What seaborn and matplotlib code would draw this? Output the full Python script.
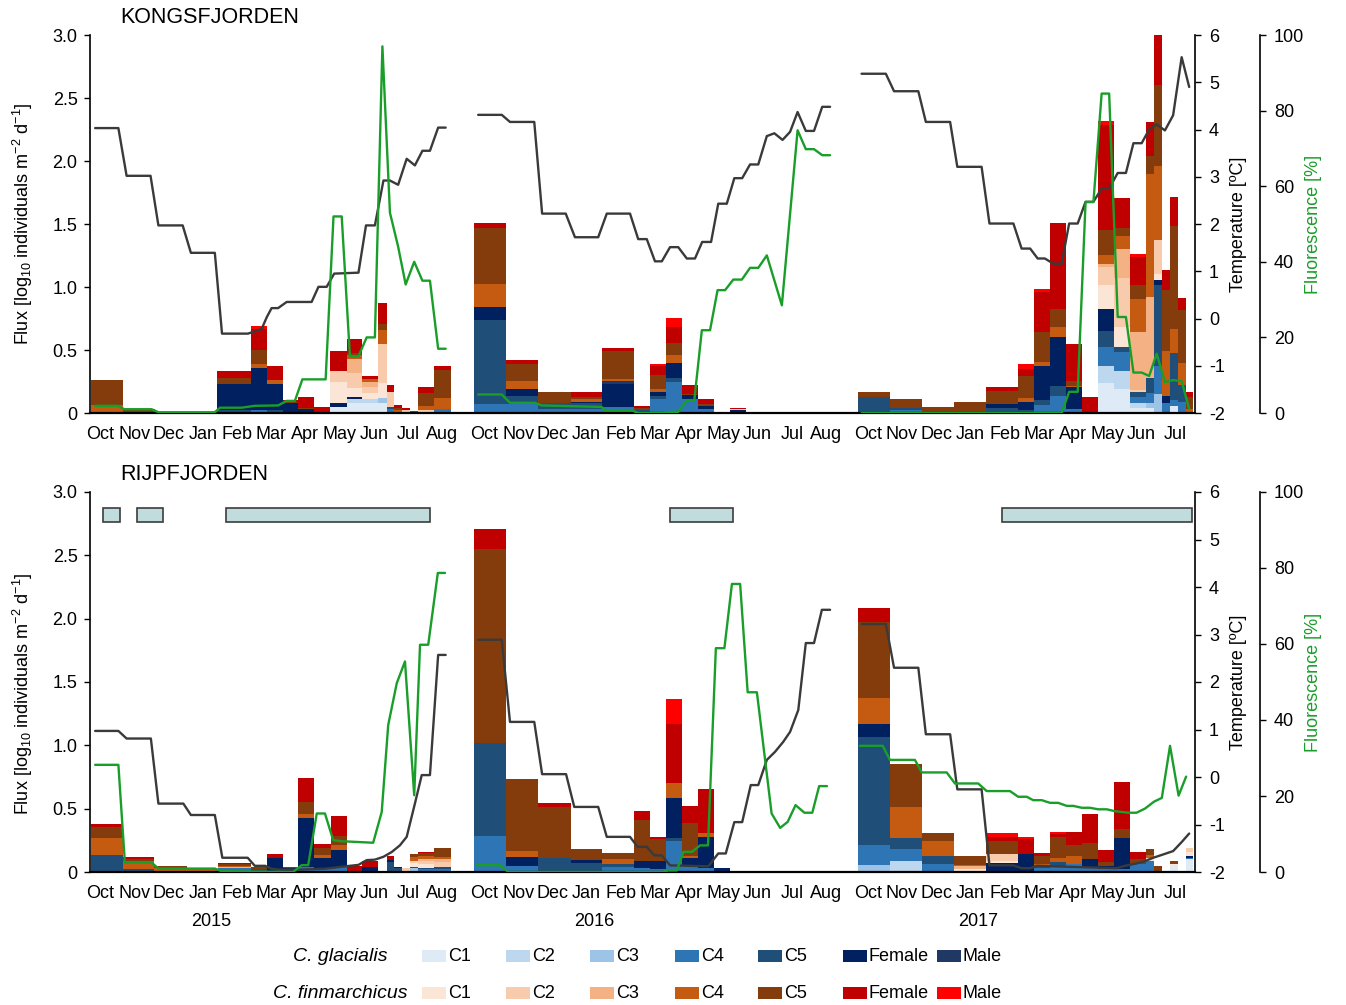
import numpy as np
import pandas as pd
import matplotlib
matplotlib.use("Agg")
import matplotlib.pyplot as plt
from matplotlib.patches import Rectangle
from matplotlib.transforms import blended_transform_factory
import seaborn as sns

sns.set_style("ticks")
plt.rcParams["font.family"] = ["Liberation Sans", "DejaVu Sans"]
plt.rcParams["mathtext.default"] = "regular"
plt.rcParams["axes.unicode_minus"] = False
for key in ["text.color", "axes.labelcolor", "xtick.color", "ytick.color", "axes.edgecolor"]:
    plt.rcParams[key] = "black"

##############################################################################
# data (x = months since 1 Oct of each deployment year)
##############################################################################
stages = ["g1", "g2", "g3", "g4", "g5", "gF", "gM",
          "f1", "f2", "f3", "f4", "f5", "fF", "fM"]
stage_labels = ["C1", "C2", "C3", "C4", "C5", "Female", "Male"]
gla_colors = ["#deebf7", "#bdd7ee", "#9dc3e6", "#2e75b6", "#1f4e79", "#002060", "#203864"]
fin_colors = ["#fbe5d6", "#f8cbad", "#f4b183", "#c55a11", "#843c0c", "#c00000", "#ff0000"]
months = ["Oct", "Nov", "Dec", "Jan", "Feb", "Mar", "Apr", "May", "Jun", "Jul", "Aug"]
n_months = [11, 11, 10]
years = ["2015", "2016", "2017"]

# Kongsfjorden
kf15_edges = [0.03, 0.97, 1.9, 2.78, 3.72, 4.71, 5.18, 5.64, 6.08, 6.55, 7.02,
              7.51, 7.95, 8.42, 8.68, 8.89, 9.12, 9.36, 9.59, 10.06, 10.56]
kf15_flux = [
    {"g5": 0.01, "f4": 0.05, "f5": 0.20},
    {"g5": 0.01, "f5": 0.02},
    {"f5": 0.005},
    {"f5": 0.005},
    {"g5": 0.02, "gF": 0.21, "f5": 0.05, "fF": 0.05},
    {"g4": 0.02, "gF": 0.34, "f4": 0.03, "f5": 0.11, "fF": 0.17, "fM": 0.02},
    {"g5": 0.02, "gF": 0.21, "f4": 0.03, "fF": 0.11},
    {"gF": 0.08, "f5": 0.01, "fF": 0.01},
    {"gF": 0.03, "f5": 0.01, "fF": 0.09},
    {"gF": 0.01, "fF": 0.04},
    {"g1": 0.05, "gF": 0.03, "f1": 0.17, "f2": 0.08, "fF": 0.16},
    {"g1": 0.08, "g2": 0.035, "gF": 0.013, "f1": 0.07, "f2": 0.12, "f3": 0.11,
     "f4": 0.03, "f5": 0.02, "fF": 0.11},
    {"g1": 0.08, "g2": 0.03, "f1": 0.05, "f2": 0.05, "f3": 0.04, "f4": 0.02, "fF": 0.02},
    {"g1": 0.08, "g3": 0.04, "f1": 0.12, "f2": 0.31, "f4": 0.11, "f5": 0.045, "fF": 0.17},
    {"g4": 0.03, "g5": 0.015, "f2": 0.12, "fF": 0.06},
    {"f4": 0.02, "f5": 0.02, "fF": 0.02},
    {"f2": 0.02, "fF": 0.02},
    {"f5": 0.016},
    {"f2": 0.02, "f4": 0.035, "f5": 0.105, "fF": 0.05},
    {"g4": 0.03, "f4": 0.09, "f5": 0.225, "fF": 0.025},
]
kf16_edges = [0.02, 0.94, 1.89, 2.84, 3.76, 4.7, 5.16, 5.63, 6.1, 6.57, 7.03, 7.49, 7.96, 8.43]
kf16_flux = [
    {"g4": 0.07, "g5": 0.67, "gF": 0.1, "f4": 0.18, "f5": 0.45, "fF": 0.035},
    {"g4": 0.07, "g5": 0.067, "gF": 0.053, "f4": 0.067, "f5": 0.133, "fF": 0.027},
    {"g4": 0.03, "g5": 0.053, "f5": 0.08},
    {"g4": 0.03, "g5": 0.05, "gF": 0.01, "f4": 0.025, "f5": 0.01, "fF": 0.045},
    {"g4": 0.045, "gF": 0.187, "gM": 0.02, "f4": 0.02, "f5": 0.22, "fF": 0.02},
    {"g5": 0.02, "f5": 0.02, "fF": 0.015},
    {"g4": 0.11, "g5": 0.027, "gF": 0.027, "f4": 0.027, "f5": 0.11, "fF": 0.075, "fM": 0.015},
    {"g4": 0.245, "g5": 0.032, "gF": 0.123, "f4": 0.064, "f5": 0.088, "fF": 0.133, "fM": 0.067},
    {"g4": 0.11, "gF": 0.03, "f5": 0.01, "fF": 0.07},
    {"g4": 0.03, "gF": 0.027, "f5": 0.018, "fF": 0.04},
    {"fF": 0.005},
    {"g4": 0.01, "gF": 0.015, "f2": 0.005, "fF": 0.01},
    {"fF": 0.003},
]
kf17_edges = [0.03, 0.95, 1.88, 2.82, 3.76, 4.69, 5.15, 5.62, 6.09, 6.56,
              7.03, 7.49, 7.96, 8.43, 8.66, 8.9, 9.13, 9.37, 9.6, 9.82]
kf17_flux = [
    {"g5": 0.13, "f5": 0.04},
    {"g4": 0.02, "g5": 0.02, "f5": 0.075},
    {"g5": 0.01, "f5": 0.035},
    {"f4": 0.01, "f5": 0.075},
    {"g5": 0.04, "gF": 0.03, "f5": 0.107, "fF": 0.027},
    {"g5": 0.02, "gF": 0.07, "f4": 0.032, "f5": 0.17, "fF": 0.06, "fM": 0.037},
    {"g4": 0.067, "g5": 0.04, "gF": 0.267, "f4": 0.027, "f5": 0.24, "fF": 0.32, "fM": 0.027},
    {"g4": 0.133, "g5": 0.08, "gF": 0.392, "f4": 0.08, "f5": 0.141, "fF": 0.68},
    {"g4": 0.03, "gF": 0.18, "f4": 0.005, "f5": 0.04, "fF": 0.29},
    {"fF": 0.13},
    {"g1": 0.24, "g2": 0.133, "g4": 0.147, "g5": 0.128, "gF": 0.179, "f1": 0.187,
     "f2": 0.147, "f3": 0.021, "f4": 0.072, "f5": 0.2, "fF": 0.832, "fM": 0.035},
    {"g1": 0.187, "g2": 0.147, "g4": 0.147, "g5": 0.045, "f1": 0.155, "f2": 0.387,
     "f3": 0.232, "f4": 0.101, "f5": 0.067, "fF": 0.24},
    {"g1": 0.04, "g2": 0.04, "g4": 0.045, "g5": 0.04, "f2": 0.021, "f3": 0.453,
     "f4": 0.267, "f5": 0.107, "fF": 0.227, "fM": 0.019},
    {"g1": 0.04, "g3": 0.04, "g4": 0.08, "g5": 0.12, "f3": 0.64, "f4": 0.973,
     "f5": 0.147, "fF": 0.267},
    {"g3": 0.147, "g4": 0.227, "g5": 0.64, "gF": 0.045, "f1": 0.048, "f2": 0.267,
     "f4": 0.587, "f5": 0.64, "fF": 0.44},
    {"g4": 0.08, "gF": 0.053, "f4": 0.36, "f5": 0.48, "fF": 0.16},
    {"g1": 0.053, "g4": 0.053, "g5": 0.373, "f4": 0.187, "f5": 0.819, "fF": 0.227},
    {"g4": 0.09, "g5": 0.133, "f4": 0.173, "f5": 0.419, "fF": 0.101},
    {"f4": 0.03, "f5": 0.1, "fF": 0.04},
]

kf15_temp_x = [0.15, 0.83, 1.07, 1.77, 2.0, 2.71, 2.95, 3.65, 3.86, 4.62, 5.02, 5.17, 5.31,
               5.5, 5.75, 6.48, 6.68, 6.92, 7.14, 7.85, 8.07, 8.33, 8.58, 8.77, 9.01, 9.26,
               9.5, 9.72, 9.94, 10.18, 10.4]
kf15_temp = [4.03, 4.03, 3.02, 3.02, 1.97, 1.97, 1.39, 1.39, -0.32, -0.32, -0.22, 0.03, 0.22,
             0.22, 0.35, 0.35, 0.67, 0.67, 0.95, 0.97, 1.97, 1.97, 2.92, 2.92, 2.83, 3.38,
             3.24, 3.55, 3.55, 4.04, 4.04]
kf15_fluo_x = [0.15, 0.83, 1.0, 1.8, 2.0, 3.65, 3.8, 4.43, 4.82, 5.5, 5.75, 5.99, 6.21, 6.89,
               7.12, 7.36, 7.6, 7.85, 8.09, 8.33, 8.55, 8.77, 9.01, 9.23, 9.48, 9.72, 9.94,
               10.18, 10.4]
kf15_fluo = [1.9, 1.9, 1.0, 1.0, 0.2, 0.2, 1.4, 1.4, 1.9, 2.0, 3.2, 3.2, 8.9, 8.9, 52, 52,
             15, 15, 20, 20, 97, 53, 44, 34, 40, 35, 35, 17, 17]
kf16_temp_x = [0.13, 0.82, 1.06, 1.77, 2.0, 2.69, 2.96, 3.64, 3.89, 4.57, 4.81, 5.06, 5.3,
               5.5, 5.74, 5.98, 6.23, 6.47, 6.68, 6.94, 7.15, 7.4, 7.62, 7.85, 8.08, 8.32,
               8.57, 8.79, 9.03, 9.25, 9.47, 9.71, 9.95, 10.19, 10.42]
kf16_temp = [4.31, 4.31, 4.16, 4.16, 2.22, 2.22, 1.72, 1.72, 2.22, 2.22, 1.68, 1.68, 1.21,
             1.21, 1.51, 1.51, 1.27, 1.27, 1.62, 1.62, 2.43, 2.43, 2.97, 2.97, 3.26, 3.26,
             3.86, 3.92, 3.78, 3.95, 4.37, 3.97, 3.97, 4.48, 4.48]
kf16_fluo_x = [0.13, 0.82, 1.06, 1.79, 1.99, 3.74, 3.84, 4.62, 4.81, 5.5, 5.74, 5.98, 6.23,
               6.45, 6.67, 6.91, 7.13, 7.35, 7.59, 7.84, 8.08, 8.32, 8.57, 9.01, 9.47, 9.71,
               9.95, 10.19, 10.42]
kf16_fluo = [4.9, 4.9, 2.7, 2.7, 2.0, 1.6, 0.7, 0.7, 0, 0, 0.3, 0.3, 3.4, 3.4, 21.9, 21.9,
             32.5, 32.5, 35.3, 35.3, 38.4, 38.4, 41.7, 28.5, 74.8, 69.8, 69.8, 68.2, 68.2]
kf17_temp_x = [0.12, 0.83, 1.07, 1.78, 2.0, 2.71, 2.92, 3.63, 3.86, 4.56, 4.8, 5.05, 5.27,
               5.48, 5.73, 5.97, 6.19, 6.44, 6.67, 6.9, 7.14, 7.36, 7.61, 7.85, 8.07, 8.31,
               8.53, 8.75, 8.99, 9.23, 9.48, 9.7]
kf17_temp = [5.18, 5.18, 4.81, 4.81, 4.16, 4.16, 3.21, 3.21, 2.01, 2.01, 1.48, 1.48, 1.27,
             1.27, 1.16, 1.16, 2.01, 2.01, 2.47, 2.47, 2.75, 2.75, 3.08, 3.08, 3.71, 3.71,
             4.0, 4.11, 3.98, 4.3, 5.53, 4.9]
kf17_fluo_x = [0.12, 5.97, 6.19, 6.44, 6.67, 6.9, 7.14, 7.36, 7.61, 7.85, 8.07, 8.31, 8.53,
               8.75, 8.99, 9.23, 9.48, 9.7]
kf17_fluo = [0, 0, 5.6, 5.6, 55.8, 55.8, 84.5, 84.5, 25.4, 25.4, 10.7, 10.7, 9.8, 15.7, 8.2,
             8.7, 8.4, 1.1]

# Rijpfjorden
rf15_edges = [0.03, 0.96, 1.88, 2.83, 3.75, 4.7, 5.17, 5.64, 6.09, 6.56, 7.05,
              7.51, 7.96, 8.43, 8.68, 8.9, 9.13, 9.36, 9.6, 10.07, 10.56]
rf15_flux = [
    {"g5": 0.132, "f4": 0.137, "f5": 0.087, "fF": 0.026},
    {"g5": 0.026, "f4": 0.058, "f5": 0.021, "fF": 0.013},
    {"f4": 0.03, "f5": 0.015},
    {"f2": 0.01, "f4": 0.016},
    {"g4": 0.03, "f3": 0.01, "f4": 0.01, "f5": 0.015, "fF": 0.005},
    {"g5": 0.02, "f5": 0.02},
    {"g5": 0.01, "gF": 0.1, "fF": 0.032},
    {"gF": 0.03, "f5": 0.01},
    {"g4": 0.04, "gF": 0.383, "f4": 0.032, "f5": 0.1, "fF": 0.19},
    {"g4": 0.03, "gF": 0.079, "f4": 0.026, "f5": 0.053, "fF": 0.032},
    {"g4": 0.04, "gF": 0.132, "f4": 0.04, "f5": 0.071, "fF": 0.161},
    {"gF": 0.01, "fF": 0.035},
    {"g5": 0.01, "gF": 0.03, "fF": 0.05},
    {"gF": 0.01},
    {"g5": 0.08, "gF": 0.015, "fF": 0.035},
    {"g5": 0.03, "gF": 0.01},
    {"f1": 0.01, "f2": 0.02},
    {"g3": 0.03, "g5": 0.01, "f1": 0.03, "f2": 0.02, "f4": 0.03, "f5": 0.025},
    {"g4": 0.02, "g5": 0.015, "f1": 0.025, "f2": 0.025, "f3": 0.02, "f4": 0.025,
     "f5": 0.02, "fF": 0.01},
    {"g4": 0.026, "g5": 0.013, "f2": 0.04, "f3": 0.026, "f4": 0.013, "f5": 0.075},
]
rf16_edges = [0.02, 0.94, 1.89, 2.84, 3.76, 4.7, 5.16, 5.63, 6.1, 6.57, 7.03, 7.49]
rf16_flux = [
    {"g4": 0.287, "g5": 0.732, "f5": 1.533, "fF": 0.156},
    {"g4": 0.045, "gF": 0.074, "f4": 0.045, "f5": 0.567},
    {"g5": 0.111, "f5": 0.404, "fF": 0.026},
    {"g5": 0.071, "gF": 0.021, "f5": 0.09},
    {"g4": 0.04, "g5": 0.025, "f4": 0.035, "f5": 0.05},
    {"g4": 0.03, "gF": 0.053, "f5": 0.33, "fF": 0.071},
    {"g4": 0.02, "gF": 0.066, "f5": 0.172, "fF": 0.021},
    {"g4": 0.243, "g5": 0.026, "gF": 0.317, "f4": 0.119, "fF": 0.462, "fM": 0.198},
    {"g4": 0.045, "gF": 0.066, "f4": 0.018, "f5": 0.259, "fF": 0.137},
    {"g4": 0.03, "gF": 0.245, "f4": 0.032, "fF": 0.351},
    {"gF": 0.03},
]
rf17_edges = kf17_edges
rf17_flux = [
    {"g3": 0.055, "g4": 0.158, "g5": 0.853, "gF": 0.106, "f4": 0.198, "f5": 0.607, "fF": 0.106},
    {"g2": 0.087, "g4": 0.098, "g5": 0.087, "f4": 0.245, "f5": 0.335},
    {"g4": 0.061, "g5": 0.066, "f4": 0.119, "f5": 0.058},
    {"f1": 0.02, "f3": 0.026, "f4": 0.01, "f5": 0.074},
    {"gF": 0.069, "f1": 0.018, "f2": 0.053, "f5": 0.106, "fF": 0.034, "fM": 0.024},
    {"gF": 0.14, "fF": 0.12, "fM": 0.02},
    {"g4": 0.03, "g5": 0.01, "f4": 0.025, "f5": 0.06, "fF": 0.028},
    {"g4": 0.048, "g5": 0.032, "f4": 0.034, "f5": 0.166, "fF": 0.018, "fM": 0.018},
    {"g4": 0.061, "f4": 0.066, "f5": 0.085, "fF": 0.1},
    {"g4": 0.03, "gF": 0.074, "f5": 0.124, "fF": 0.23},
    {"g4": 0.02, "gF": 0.03, "f5": 0.03, "fF": 0.09},
    {"g4": 0.026, "gF": 0.245, "f5": 0.066, "fF": 0.375},
    {"g4": 0.061, "f5": 0.045, "fF": 0.048},
    {"g4": 0.087, "f1": 0.02, "f4": 0.026, "f5": 0.045},
    {"f5": 0.045},
    {},
    {"g1": 0.055, "f1": 0.01, "f5": 0.025},
    {},
    {"g1": 0.1, "g4": 0.01, "gF": 0.015, "f1": 0.03, "f2": 0.035},
]

rf15_temp_x = [0.15, 0.83, 1.07, 1.78, 2.0, 2.73, 2.95, 3.65, 3.87, 4.61, 4.82, 5.12, 5.31,
               5.51, 6.19, 6.87, 7.6, 7.85, 8.09, 8.33, 8.58, 8.82, 9.06, 9.26, 9.5, 9.7,
               9.94, 10.18, 10.4]
rf15_temp = [0.97, 0.97, 0.81, 0.81, -0.56, -0.56, -0.8, -0.8, -1.7, -1.7, -1.87, -1.87,
             -1.93, -1.95, -1.95, -1.93, -1.87, -1.85, -1.75, -1.74, -1.68, -1.58, -1.44,
             -1.26, -0.56, 0.04, 0.04, 2.57, 2.57]
rf15_fluo_x = [0.15, 0.83, 1.02, 1.8, 2.0, 3.65, 3.85, 5.94, 6.19, 6.38, 6.63, 6.87, 7.11,
               7.36, 8.28, 8.53, 8.72, 8.97, 9.21, 9.48, 9.65, 9.89, 10.17, 10.38]
rf15_fluo = [28.2, 28.2, 2.5, 2.5, 0.9, 0.9, 0.2, 0, 1.8, 1.8, 15.4, 15.4, 8.4, 8.1, 7.7,
             15.8, 38.7, 49.7, 55.4, 20.2, 59.8, 59.8, 78.7, 78.7]
rf16_temp_x = [0.13, 0.82, 1.06, 1.77, 2.0, 2.7, 2.94, 3.64, 3.89, 4.57, 4.79, 5.06, 5.28,
               5.5, 5.74, 6.86, 7.15, 7.37, 7.62, 7.85, 8.1, 8.32, 8.57, 8.81, 9.05, 9.25,
               9.49, 9.71, 9.95, 10.18, 10.42]
rf16_temp = [2.89, 2.89, 1.16, 1.16, 0.06, 0.06, -0.63, -0.63, -1.26, -1.26, -1.47, -1.47,
             -1.65, -1.65, -1.86, -1.88, -1.61, -1.61, -0.95, -0.95, -0.17, -0.17, 0.36,
             0.53, 0.74, 0.95, 1.41, 2.82, 2.82, 3.52, 3.52]
rf16_fluo_x = [0.09, 0.77, 1.01, 1.79, 5.5, 5.69, 5.94, 6.13, 6.38, 6.62, 6.85, 7.08, 7.33,
               7.55, 7.79, 8.01, 8.28, 8.71, 8.96, 9.18, 9.41, 9.67, 9.9, 10.1, 10.33]
rf16_fluo = [1.8, 1.8, 0, 0, 0, 0.4, 0.4, 5.3, 5.3, 7.0, 7.0, 58.9, 58.9, 75.8, 75.8, 47.3,
             47.3, 15.4, 11.6, 13.2, 17.6, 15.6, 15.6, 22.6, 22.6]
rf17_temp_x = [0.12, 0.83, 1.07, 1.78, 2.0, 2.71, 2.92, 3.63, 3.86, 4.56, 4.8, 5.05, 5.24,
               7.58, 7.82, 8.16, 8.41, 8.65, 8.9, 9.23, 9.48, 9.7]
rf17_temp = [3.22, 3.22, 2.3, 2.3, 0.9, 0.9, -0.26, -0.26, -1.86, -1.86, -1.92, -1.92, -1.87,
             -1.92, -1.87, -1.82, -1.77, -1.7, -1.64, -1.56, -1.37, -1.19]
rf17_fluo_x = [0.07, 0.74, 0.95, 1.68, 1.88, 2.61, 2.85, 3.53, 3.78, 4.46, 4.7, 4.95, 5.14,
               5.39, 5.63, 5.87, 6.12, 6.31, 6.56, 6.8, 7.04, 7.29, 7.53, 7.92, 8.16, 8.41,
               8.67, 8.9, 9.14, 9.39, 9.61]
rf17_fluo = [33.2, 33.2, 29.5, 29.5, 26.2, 26.2, 23.3, 23.3, 21.3, 21.3, 19.8, 19.8, 18.9,
             18.9, 18.2, 18.2, 17.4, 17.4, 16.9, 16.9, 16.5, 16.5, 16.0, 15.6, 15.6, 16.7,
             18.5, 19.5, 33.2, 20.1, 25.1]

# sea ice cover at Rijpfjorden
ice_seg = [0, 0, 0, 1, 2]
ice_start = [0.39, 1.37, 3.97, 5.74, 4.23]
ice_end = [0.88, 2.14, 9.94, 7.58, 9.78]

##############################################################################
# layout / style
##############################################################################
seg_offset = [0.0, 11.22, 22.44]
W, H = 1346, 1005
temp_color = "#3a3a3a"
fluo_color = "#1a9e2a"
ice_color = "#c0dcdc"
fs = 13


def draw_bars(ax, edges, flux, off):
    left = np.array(edges[:-1]) + off
    width = np.diff(edges)
    bottom = np.zeros(len(flux))
    for s, col in zip(stages, gla_colors + fin_colors):
        h = np.array([b.get(s, 0.0) for b in flux])
        ax.bar(left, h, width=width, bottom=bottom, align="edge", color=col, linewidth=0)
        bottom += h


def line_frame(segs):
    parts = []
    for k, (x, y) in enumerate(segs):
        parts.append(pd.DataFrame({"month": np.array(x) + seg_offset[k], "value": y, "seg": k}))
    return pd.concat(parts, ignore_index=True)


def panel(ax, title, bars, temps, fluos, flux_lab_y):
    for k, (edges, flux) in enumerate(bars):
        draw_bars(ax, edges, flux, seg_offset[k])
    ax.set_ylim(0, 3.0)
    ax.set_xlim(0, 32.31)
    ax.set_yticks(np.arange(0, 3.01, 0.5))
    ax.set_yticklabels(["0", "0.5", "1.0", "1.5", "2.0", "2.5", "3.0"])
    ticks, labels = [], []
    for k in range(3):
        for i in range(n_months[k]):
            ticks.append(seg_offset[k] + i + 0.3)
            labels.append(months[i])
    ax.set_xticks(ticks)
    ax.set_xticklabels(labels)
    ax.tick_params(axis="x", length=0, pad=9, labelsize=fs)
    ax.tick_params(axis="y", length=4, width=1, pad=5, labelsize=fs, direction="out")
    for sp in ["top", "right"]:
        ax.spines[sp].set_visible(False)
    ax.spines["left"].set_linewidth(1.2)
    ax.spines["bottom"].set_linewidth(1.6)
    ax.set_ylabel("Flux [log$_{10}$ individuals m$^{-2}$ d$^{-1}$]", fontsize=fs)
    ax.yaxis.set_label_coords(-0.05, flux_lab_y)
    ax.text(0.027, 1.047, title, transform=ax.transAxes, fontsize=15.5, va="center")

    ax_t = ax.twinx()
    sns.lineplot(data=line_frame(temps), x="month", y="value", units="seg",
                 estimator=None, sort=False, color=temp_color, linewidth=1.7, ax=ax_t)
    ax_t.set_ylim(-2, 6)
    ax_t.set_yticks(range(-2, 7))
    ax_t.set_ylabel("Temperature [ºC]", fontsize=fs)
    ax_t.yaxis.set_label_coords(1.032, 0.5)
    ax_t.tick_params(axis="y", length=4, width=1, pad=6, labelsize=fs)
    for sp in ["top", "left", "bottom"]:
        ax_t.spines[sp].set_visible(False)
    ax_t.spines["right"].set_linewidth(1.2)

    ax_f = ax.twinx()
    sns.lineplot(data=line_frame(fluos), x="month", y="value", units="seg",
                 estimator=None, sort=False, color=fluo_color, linewidth=1.7, ax=ax_f)
    ax_f.set_ylim(0, 100)
    ax_f.set_yticks(range(0, 101, 20))
    ax_f.spines["right"].set_position(("axes", 1.0588))
    ax_f.set_ylabel("Fluorescence [%]", fontsize=fs, color=fluo_color)
    ax_f.yaxis.set_label_coords(1.1, 0.5)
    ax_f.tick_params(axis="y", length=4, width=1, pad=6, labelsize=fs)
    for sp in ["top", "left", "bottom"]:
        ax_f.spines[sp].set_visible(False)
    ax_f.spines["right"].set_linewidth(1.2)
    ax.set_xlim(0, 32.31)
    ax.set_xlabel("")
    return ax_t, ax_f


fig = plt.figure(figsize=(W / 100, H / 100), dpi=100)
ax_top = fig.add_axes([90 / W, 1 - 413 / H, 1105 / W, 378 / H])
ax_bot = fig.add_axes([90 / W, 1 - 872 / H, 1105 / W, 380 / H])

panel(ax_top, "KONGSFJORDEN",
      [(kf15_edges, kf15_flux), (kf16_edges, kf16_flux), (kf17_edges, kf17_flux)],
      [(kf15_temp_x, kf15_temp), (kf16_temp_x, kf16_temp), (kf17_temp_x, kf17_temp)],
      [(kf15_fluo_x, kf15_fluo), (kf16_fluo_x, kf16_fluo), (kf17_fluo_x, kf17_fluo)],
      0.5)
panel(ax_bot, "RIJPFJORDEN",
      [(rf15_edges, rf15_flux), (rf16_edges, rf16_flux), (rf17_edges, rf17_flux)],
      [(rf15_temp_x, rf15_temp), (rf16_temp_x, rf16_temp), (rf17_temp_x, rf17_temp)],
      [(rf15_fluo_x, rf15_fluo), (rf16_fluo_x, rf16_fluo), (rf17_fluo_x, rf17_fluo)],
      0.47)

# ice cover boxes
for k, s, e in zip(ice_seg, ice_start, ice_end):
    ax_bot.bar(seg_offset[k] + s, 0.11, width=e - s, bottom=2.76, align="edge",
               color=ice_color, edgecolor="#3c3c3c", linewidth=1.2)

# deployment years
trans = blended_transform_factory(ax_bot.transData, ax_bot.transAxes)
for k, yr in enumerate(years):
    ax_bot.text(seg_offset[k] + 3.53, -0.13, yr, transform=trans,
                ha="center", va="center", fontsize=fs)

# legend
lax = fig.add_axes([0, 0, 1, 1])
lax.set_xlim(0, W)
lax.set_ylim(H, 0)
lax.axis("off")
patch_x = [422, 506, 590, 675, 758, 843, 937]
for row_y, name, cols in [(956, "C. glacialis", gla_colors), (993, "C. finmarchicus", fin_colors)]:
    lax.text(340, row_y, name, style="italic", ha="center", va="center", fontsize=14)
    for px, lab, col in zip(patch_x, stage_labels, cols):
        lax.add_patch(Rectangle((px, row_y - 6), 24, 12, facecolor=col, edgecolor="none"))
        lax.text(px + 26, row_y, lab, ha="left", va="center", fontsize=fs)

fig.savefig("out.png", dpi=100)
